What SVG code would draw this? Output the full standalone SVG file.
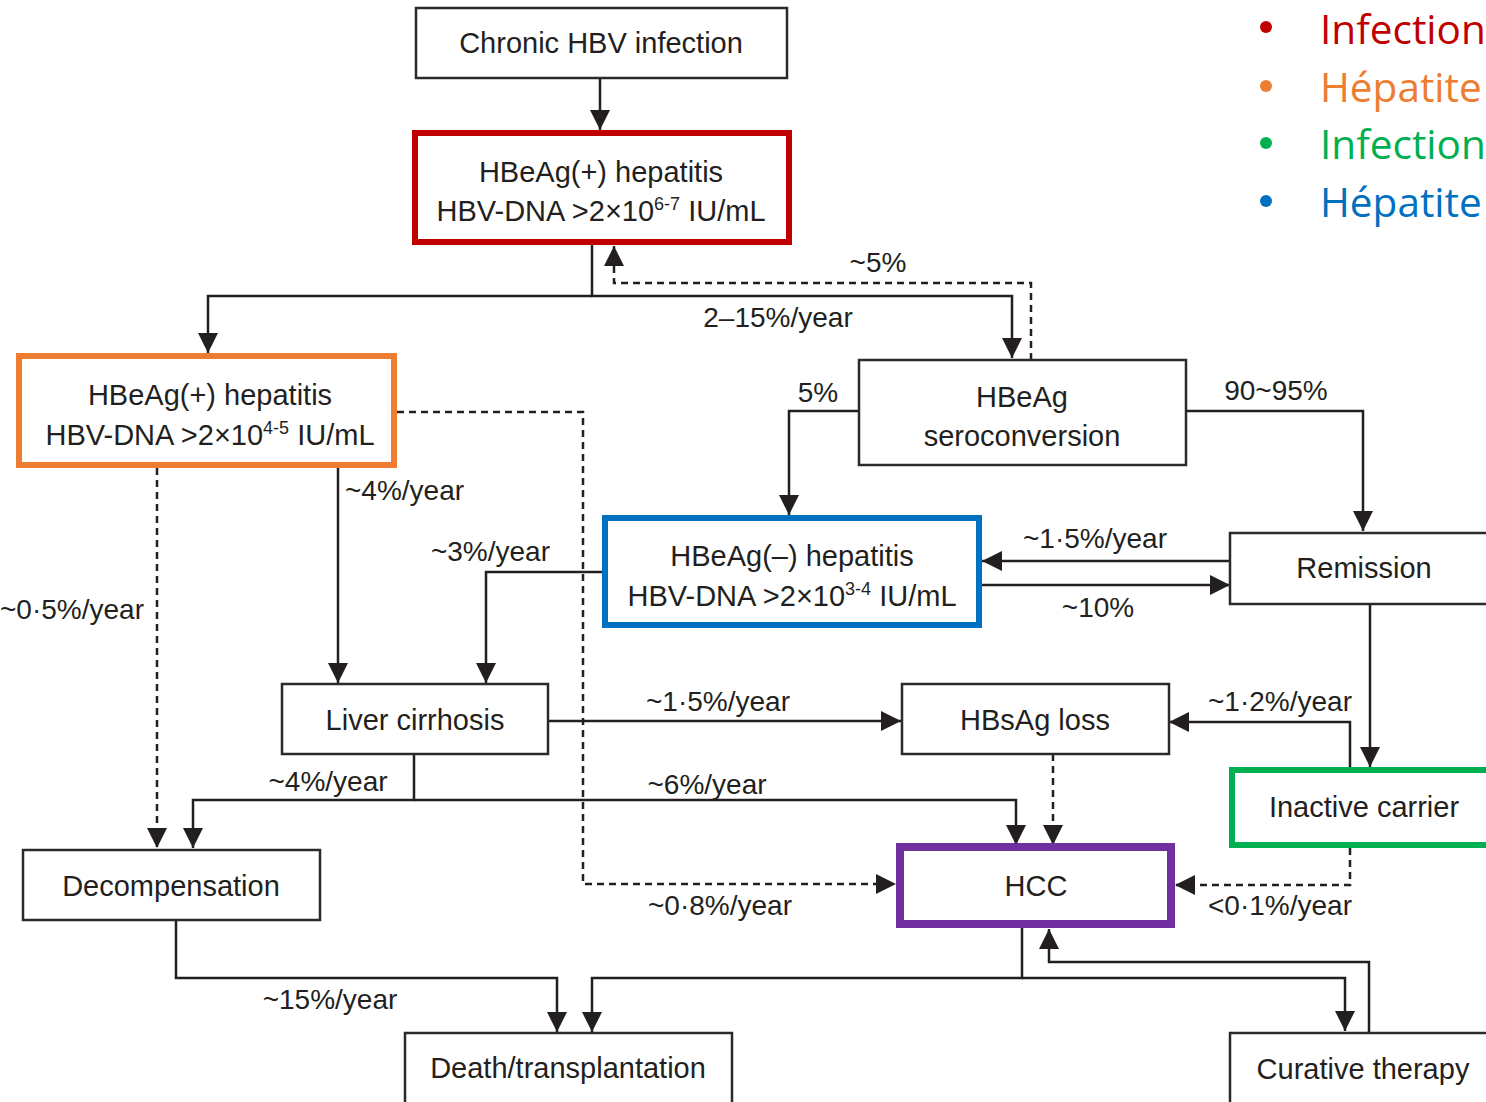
<svg xmlns="http://www.w3.org/2000/svg" width="1486" height="1102" viewBox="0 0 1486 1102">
<style>
.box{fill:#fff;stroke:#2a2a2a;stroke-width:2.5}
.red{fill:#fff;stroke:#C00000;stroke-width:6}
.org{fill:#fff;stroke:#ED7D31;stroke-width:6}
.blu{fill:#fff;stroke:#0070C0;stroke-width:6}
.grn{fill:#fff;stroke:#00B050;stroke-width:6}
.pur{fill:#fff;stroke:#7030A0;stroke-width:8}
.t{font-family:"Liberation Sans",Arial,sans-serif;font-size:29px;fill:#231f20;text-anchor:middle}
.l{font-family:"Liberation Sans",Arial,sans-serif;font-size:28px;fill:#231f20;text-anchor:middle}
.sup{font-size:18px}
.c{fill:none;stroke:#231f20;stroke-width:2.5}
.d{fill:none;stroke:#231f20;stroke-width:2.5;stroke-dasharray:7 5}
.lg{font-family:"Open Sans","Noto Sans",sans-serif;font-size:40.5px}
</style>
<defs>
<marker id="a" viewBox="0 0 20 20" refX="20" refY="10" markerWidth="20" markerHeight="20" markerUnits="userSpaceOnUse" orient="auto">
<path d="M0,0 L20,10 L0,20 z" fill="#231f20"/>
</marker>
</defs>
<rect width="1486" height="1102" fill="#fff"/>

<g id="connectors">
<path class="c" d="M600,78 V130" marker-end="url(#a)"/>
<path class="c" d="M592,296 H208 V353" marker-end="url(#a)"/>
<path class="c" d="M592,245 V296 H1012 V358" marker-end="url(#a)"/>
<path class="d" d="M1031,360 V283 H614 V246" marker-end="url(#a)"/>
<path class="d" d="M397,412 H583 V884 H896" marker-end="url(#a)"/>
<path class="d" d="M157,468 V848" marker-end="url(#a)"/>
<path class="c" d="M338,468 V683" marker-end="url(#a)"/>
<path class="c" d="M859,411 H789 V515" marker-end="url(#a)"/>
<path class="c" d="M1186,411 H1363 V531" marker-end="url(#a)"/>
<path class="c" d="M1230,561 H982" marker-end="url(#a)"/>
<path class="c" d="M982,585 H1230" marker-end="url(#a)"/>
<path class="c" d="M602,572 H486 V683" marker-end="url(#a)"/>
<path class="c" d="M548,721 H901" marker-end="url(#a)"/>
<path class="c" d="M414,754 V800 H193 V848" marker-end="url(#a)"/>
<path class="c" d="M414,800 H1016 V845" marker-end="url(#a)"/>
<path class="d" d="M1053,754 V845" marker-end="url(#a)"/>
<path class="c" d="M1350,768 V722 H1169" marker-end="url(#a)"/>
<path class="c" d="M1370,604 V767" marker-end="url(#a)"/>
<path class="d" d="M1350,848 V885 H1175" marker-end="url(#a)"/>
<path class="c" d="M1022,928 V978 H592 V1032" marker-end="url(#a)"/>
<path class="c" d="M1022,978 H1345 V1031" marker-end="url(#a)"/>
<path class="c" d="M1369,1033 V962 H1049 V929" marker-end="url(#a)"/>
<path class="c" d="M176,920 V978 H557 V1032" marker-end="url(#a)"/>
</g>

<g id="labels">
<text class="l" x="878" y="272">~5%</text>
<text class="l" x="778" y="327">2–15%/year</text>
<text class="l" x="345" y="500" style="text-anchor:start">~4%/year</text>
<text class="l" x="0" y="619" style="text-anchor:start">~0·5%/year</text>
<text class="l" x="550" y="561" style="text-anchor:end">~3%/year</text>
<text class="l" x="818" y="402">5%</text>
<text class="l" x="1276" y="400">90~95%</text>
<text class="l" x="1095" y="548">~1·5%/year</text>
<text class="l" x="1098" y="617">~10%</text>
<text class="l" x="718" y="711">~1·5%/year</text>
<text class="l" x="1280" y="711">~1·2%/year</text>
<text class="l" x="328" y="791">~4%/year</text>
<text class="l" x="707" y="794">~6%/year</text>
<text class="l" x="720" y="915">~0·8%/year</text>
<text class="l" x="1280" y="915">&lt;0·1%/year</text>
<text class="l" x="330" y="1009">~15%/year</text>
</g>

<g id="chronic">
<rect class="box" x="416" y="8" width="371" height="70"/>
<text class="t" x="601" y="53">Chronic HBV infection</text>
</g>
<g id="hbeag-pos-infection">
<rect class="red" x="415" y="133" width="374" height="109"/>
<text class="t" x="601" y="182">HBeAg(+) hepatitis</text>
<text class="t" x="601" y="221">HBV-DNA &gt;2×10<tspan class="sup" dy="-11">6-7</tspan><tspan dy="11"> IU/mL</tspan></text>
</g>
<g id="hbeag-pos-hepatitis">
<rect class="org" x="19" y="356" width="375" height="109"/>
<text class="t" x="210" y="405">HBeAg(+) hepatitis</text>
<text class="t" x="210" y="445">HBV-DNA &gt;2×10<tspan class="sup" dy="-11">4-5</tspan><tspan dy="11"> IU/mL</tspan></text>
</g>
<g id="seroconversion">
<rect class="box" x="859" y="360" width="327" height="105"/>
<text class="t" x="1022" y="407">HBeAg</text>
<text class="t" x="1022" y="446">seroconversion</text>
</g>
<g id="hbeag-neg-hepatitis">
<rect class="blu" x="605" y="518" width="374" height="107"/>
<text class="t" x="792" y="566">HBeAg(–) hepatitis</text>
<text class="t" x="792" y="606">HBV-DNA &gt;2×10<tspan class="sup" dy="-11">3-4</tspan><tspan dy="11"> IU/mL</tspan></text>
</g>
<g id="remission">
<rect class="box" x="1230" y="533" width="270" height="71"/>
<text class="t" x="1364" y="578">Remission</text>
</g>
<g id="cirrhosis">
<rect class="box" x="282" y="684" width="266" height="70"/>
<text class="t" x="415" y="730">Liver cirrhosis</text>
</g>
<g id="hbsag-loss">
<rect class="box" x="902" y="684" width="267" height="70"/>
<text class="t" x="1035" y="730">HBsAg loss</text>
</g>
<g id="inactive-carrier">
<rect class="grn" x="1232" y="770" width="270" height="75"/>
<text class="t" x="1364" y="817">Inactive carrier</text>
</g>
<g id="hcc">
<rect class="pur" x="900" y="847" width="271" height="77"/>
<text class="t" x="1036" y="896">HCC</text>
</g>
<g id="decompensation">
<rect class="box" x="23" y="850" width="297" height="70"/>
<text class="t" x="171" y="896">Decompensation</text>
</g>
<g id="death">
<rect class="box" x="405" y="1033" width="327" height="80"/>
<text class="t" x="568" y="1078">Death/transplantation</text>
</g>
<g id="curative">
<rect class="box" x="1230" y="1033" width="270" height="80"/>
<text class="t" x="1363" y="1079">Curative therapy</text>
</g>

<g id="legend">
<circle cx="1266" cy="27" r="6" fill="#C00000"/>
<text class="lg" x="1320" y="44" fill="#C00000">Infection</text>
<circle cx="1266" cy="86" r="6" fill="#ED7D31"/>
<text class="lg" x="1320" y="102" fill="#ED7D31">Hépatite</text>
<circle cx="1266" cy="143" r="6" fill="#00B050"/>
<text class="lg" x="1320" y="159" fill="#00B050">Infection</text>
<circle cx="1266" cy="201" r="6" fill="#0070C0"/>
<text class="lg" x="1320" y="217" fill="#0070C0">Hépatite</text>
</g>
</svg>
